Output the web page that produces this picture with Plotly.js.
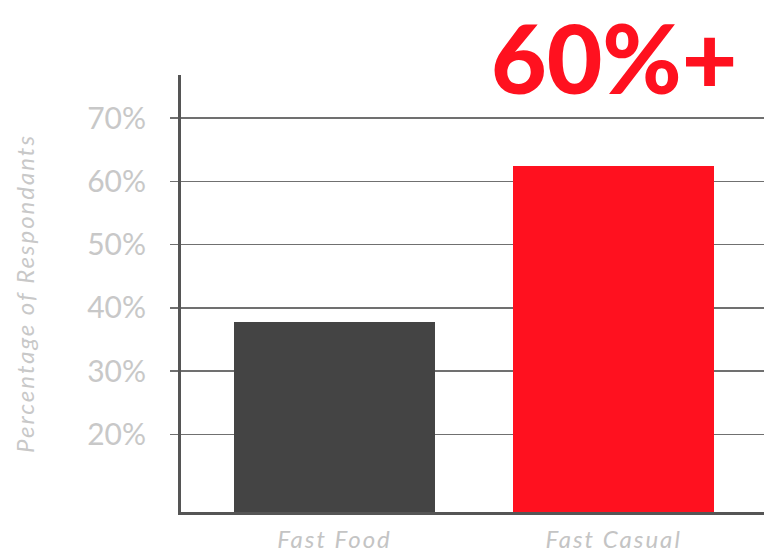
<!DOCTYPE html>
<html>
<head>
<meta charset="utf-8">
<script src="https://cdn.plot.ly/plotly-3.0.1.min.js"></script>
<style>
html,body{margin:0;padding:0;background:#fff;}
#chart{width:764px;height:550px;}
#chart .ytitle{letter-spacing:2px;}
#chart .xtick text{letter-spacing:2px;}
</style>
</head>
<body>
<div id="chart"></div>
<script>
const categories = ["Fast Food", "Fast Casual"];
const values = [37.8, 62.4];
const barColors = ["#444444", "#FF111F"];
const yTickVals = [20, 30, 40, 50, 60, 70];
const yTickText = ["20%", "30%", "40%", "50%", "60%", "70%"];
const headline = "60%+";

const xPos = categories.map((c, i) => i);

const trace = {
  type: "bar",
  x: xPos,
  y: values,
  width: 0.718,
  marker: {color: barColors, line: {width: 0}},
  hoverinfo: "none"
};

const layout = {
  width: 764,
  height: 550,
  margin: {l: 181, r: 0, t: 75, b: 38, pad: 0},
  paper_bgcolor: "#ffffff",
  plot_bgcolor: "#ffffff",
  showlegend: false,
  bargap: 0,
  xaxis: {
    range: [-0.550, 1.539],
    tickvals: xPos,
    ticktext: categories,
    showgrid: false,
    zeroline: false,
    showline: true,
    linecolor: "#555555",
    linewidth: 3,
    ticks: "",
    ticklabelstandoff: 4,
    tickfont: {family: "Lato, sans-serif", size: 24, color: "#c4c4c4", style: "italic"},
    fixedrange: true
  },
  yaxis: {
    range: [7.73, 76.8],
    tickvals: yTickVals,
    ticktext: yTickText,
    showgrid: true,
    gridcolor: "#707070",
    gridwidth: 1.5,
    zeroline: false,
    showline: true,
    linecolor: "#555555",
    linewidth: 3,
    ticks: "outside",
    ticklen: 8,
    tickwidth: 1.5,
    tickcolor: "#707070",
    ticklabelstandoff: 18,
    tickfont: {family: "Lato, sans-serif", size: 30, color: "#c8c8c8"},
    title: {
      text: "Percentage of Respondants",
      font: {family: "Lato, sans-serif", size: 24, color: "#c8c8c8", style: "italic"},
      standoff: 46
    },
    fixedrange: true
  },
  annotations: [{
    text: headline,
    xref: "paper", yref: "paper",
    x: (614 - 181) / 583, y: 1 + (75 - 57) / 437,
    xanchor: "center", yanchor: "middle",
    showarrow: false,
    font: {family: "Lato, sans-serif", size: 96, color: "#FF111F", weight: 900}
  }]
};

Plotly.newPlot("chart", [trace], layout, {staticPlot: true, displayModeBar: false});
</script>
</body>
</html>
